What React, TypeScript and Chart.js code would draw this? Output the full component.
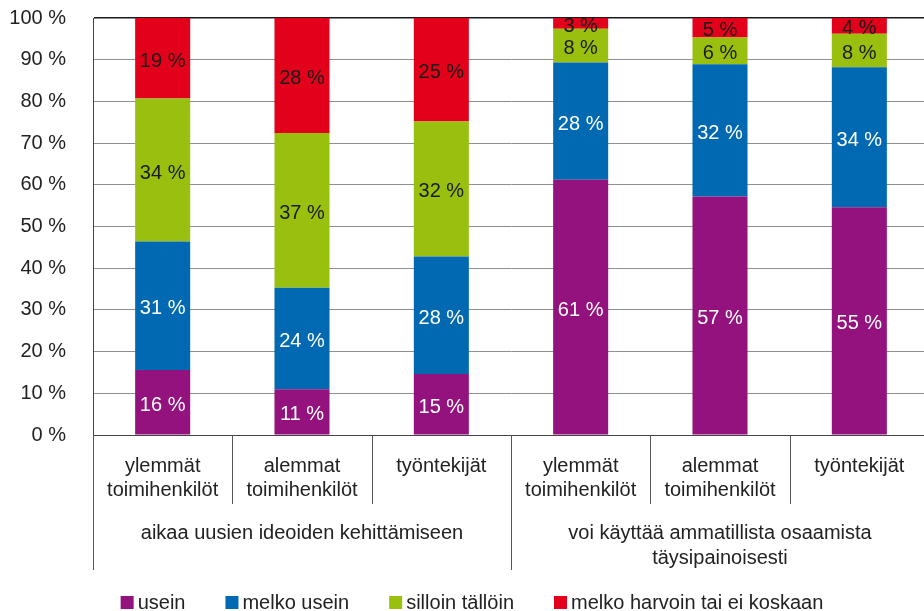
import React, { useEffect, useRef } from "react";
import { Chart, registerables } from "chart.js";

Chart.register(...registerables);

// ---- data ----
const categoryLines: string[][] = [
  ["ylemmät", "toimihenkilöt"],
  ["alemmat", "toimihenkilöt"],
  ["työntekijät"],
  ["ylemmät", "toimihenkilöt"],
  ["alemmat", "toimihenkilöt"],
  ["työntekijät"],
];
const groupLines: string[][] = [
  ["aikaa uusien ideoiden kehittämiseen"],
  ["voi käyttää ammatillista osaamista", "täysipainoisesti"],
];
const groupSizes: number[] = [3, 3];

const seriesNames: string[] = ["usein", "melko usein", "silloin tällöin", "melko harvoin tai ei koskaan"];
const usein: number[] = [15.6, 11.0, 14.6, 61.2, 57.2, 54.6];
const melkoUsein: number[] = [30.8, 24.3, 28.2, 28.1, 31.7, 33.6];
const silloinTalloin: number[] = [34.3, 37.1, 32.4, 8.1, 6.4, 8.0];
const melkoHarvoin: number[] = [19.3, 27.6, 24.8, 2.6, 4.7, 3.8];
const seriesColors: string[] = ["#93127d", "#0069b2", "#99bf0f", "#e2001a"];
const labelColors: string[] = ["#ffffff", "#ffffff", "#1a1a1a", "#1a1a1a"];

const FONT = "'Liberation Sans', Arial, Helvetica, sans-serif";
const TEXT = "#222222";

const extrasPlugin = {
  id: "extras",
  afterDatasetsDraw(chart: any) {
    const ctx = chart.ctx;
    ctx.save();
    ctx.font = `20px ${FONT}`;
    ctx.textAlign = "center";
    ctx.textBaseline = "middle";
    chart.data.datasets.forEach((ds: any, di: number) => {
      const meta = chart.getDatasetMeta(di);
      meta.data.forEach((bar: any, i: number) => {
        const v = ds.data[i];
        const y = (bar.y + bar.base) / 2 + 3;
        ctx.fillStyle = labelColors[di];
        ctx.fillText(`${Math.round(v)} %`, bar.x, y);
      });
    });
    ctx.restore();
  },
  afterDraw(chart: any) {
    const ctx = chart.ctx;
    const xs = chart.scales.x;
    const area = chart.chartArea;
    const axisY = area.bottom;
    const n = chart.data.labels.length;
    const step = n > 1 ? xs.getPixelForValue(1) - xs.getPixelForValue(0) : area.right - area.left;
    ctx.save();
    ctx.strokeStyle = "#555555";
    ctx.lineWidth = 1;
    const groupEnds: number[] = [];
    let acc = 0;
    groupSizes.forEach((s) => { acc += s; groupEnds.push(acc); });
    const drawLine = (x: number, y2: number) => {
      const xx = Math.round(x) + 0.5;
      ctx.beginPath();
      ctx.moveTo(xx, axisY);
      ctx.lineTo(xx, y2);
      ctx.stroke();
    };
    drawLine(area.left - 0.5, axisY + 135);
    for (let i = 1; i < n; i++) {
      const x = xs.getPixelForValue(i) - step / 2;
      const long = groupEnds.includes(i);
      drawLine(x, axisY + (long ? 135 : 69));
    }
    // category labels
    ctx.font = `20px ${FONT}`;
    ctx.fillStyle = TEXT;
    ctx.textAlign = "center";
    ctx.textBaseline = "middle";
    categoryLines.forEach((lines, i) => {
      const x = xs.getPixelForValue(i);
      lines.forEach((t, li) => ctx.fillText(t, x, axisY + 31 + li * 24.7));
    });
    // group labels
    let start = 0;
    groupLines.forEach((lines, g) => {
      const x0 = xs.getPixelForValue(start) - step / 2;
      const x1 = xs.getPixelForValue(start + groupSizes[g] - 1) + step / 2;
      const cx = (x0 + x1) / 2;
      lines.forEach((t, li) => ctx.fillText(t, cx, axisY + 98 + li * 25));
      start += groupSizes[g];
    });
    // legend
    const box = 13;
    const gap = 4;
    const itemGap = 40;
    ctx.textAlign = "left";
    ctx.textBaseline = "alphabetic";
    const widths = chart.data.datasets.map((ds: any) => box + gap + ctx.measureText(ds.label).width);
    const total = widths.reduce((a: number, b: number) => a + b, 0) + itemGap * (widths.length - 1);
    let lx = 924 / 2 - total / 2 + 10;
    const baseY = 609;
    chart.data.datasets.forEach((ds: any, di: number) => {
      ctx.fillStyle = ds.backgroundColor;
      ctx.fillRect(lx, baseY - box, box, box);
      ctx.fillStyle = TEXT;
      ctx.fillText(ds.label, lx + box + gap, baseY);
      lx += widths[di] + itemGap;
    });
    ctx.restore();
  },
};

export default function App() {
  const ref = useRef<HTMLCanvasElement | null>(null);
  useEffect(() => {
    document.body.style.margin = "0";
    const canvas = ref.current;
    if (!canvas) return;
    const seriesData = [usein, melkoUsein, silloinTalloin, melkoHarvoin];
    const chart = new Chart(canvas, {
      type: "bar",
      data: {
        labels: categoryLines.map((l) => l.join(" ")),
        datasets: seriesData.map((d, i) => ({
          label: seriesNames[i],
          data: d,
          backgroundColor: seriesColors[i],
          borderWidth: 0,
          barPercentage: 0.395,
          categoryPercentage: 1,
        })),
      },
      options: {
        animation: false,
        responsive: false,
        devicePixelRatio: 1,
        layout: { padding: { top: 18, left: 0, right: 0, bottom: 0 } },
        plugins: { legend: { display: false }, tooltip: { enabled: false } },
        scales: {
          x: {
            stacked: true,
            ticks: { display: false },
            grid: { display: false },
            border: { display: true, color: "#444444", width: 1 },
            afterFit: (scale: any) => { scale.height = 611 - 435; scale.paddingLeft = 0; scale.paddingRight = 0; },
          },
          y: {
            stacked: true,
            min: 0,
            max: 100,
            ticks: {
              stepSize: 10,
              padding: 27,
              color: TEXT,
              font: { family: FONT, size: 20 },
              callback: (v: any) => `${v} %`,
            },
            grid: {
              drawTicks: false,
              color: (c: any) => (c.tick && c.tick.value === 100 ? "#1a1a1a" : "#8f8f8f"),
              lineWidth: (c: any) => (c.tick && c.tick.value === 100 ? 1.5 : 1),
            },
            border: { display: true, color: "#444444", width: 1 },
            afterFit: (scale: any) => { scale.width = 93; scale.paddingTop = 0; scale.paddingBottom = 0; },
          },
        },
      },
      plugins: [extrasPlugin],
    });
    return () => chart.destroy();
  }, []);
  return (
    <div style={{ width: 924, height: 611, overflow: "hidden", background: "#fff" }}>
      <canvas ref={ref} width={929} height={611} style={{ display: "block" }} />
    </div>
  );
}
